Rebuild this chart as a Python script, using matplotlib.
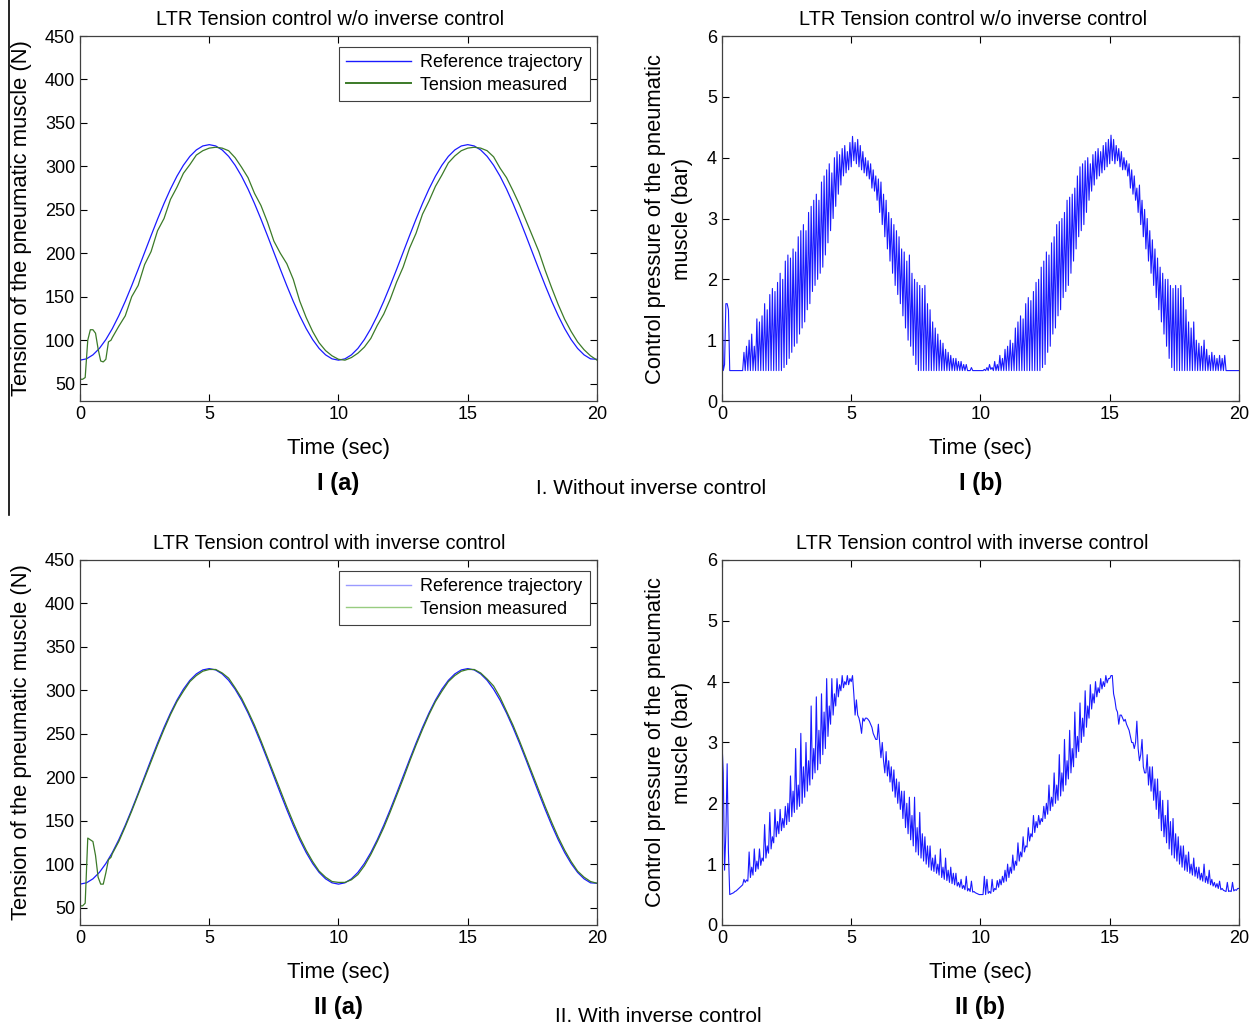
import numpy as np
import matplotlib.pyplot as plt
from matplotlib.lines import Line2D

plt.rcParams['font.family'] = ['Liberation Sans', 'DejaVu Sans']

# ---- data ----
# reference trajectory, sampled every 0.25 s from 0 to 20 s
ref_t = np.arange(81) * 0.25
ref_tension = [77, 78.5, 83.1, 90.5, 100.7, 113.3, 128.1, 144.7, 162.7, 181.6,
               201, 220.4, 239.3, 257.3, 273.9, 288.7, 301.3, 311.5, 318.9, 323.5,
               325, 323.5, 318.9, 311.5, 301.3, 288.7, 273.9, 257.3, 239.3, 220.4,
               201, 181.6, 162.7, 144.7, 128.1, 113.3, 100.7, 90.5, 83.1, 78.5,
               77, 78.5, 83.1, 90.5, 100.7, 113.3, 128.1, 144.7, 162.7, 181.6,
               201, 220.4, 239.3, 257.3, 273.9, 288.7, 301.3, 311.5, 318.9, 323.5,
               325, 323.5, 318.9, 311.5, 301.3, 288.7, 273.9, 257.3, 239.3, 220.4,
               201, 181.6, 162.7, 144.7, 128.1, 113.3, 100.7, 90.5, 83.1, 78.5,
               78]

# measured tension: 0.1 s steps during start-up, 0.25 s afterwards
meas_t = np.concatenate([np.arange(13) * 0.1, 1.25 + np.arange(76) * 0.25])

meas_wo = [55, 55, 57, 100, 112, 112, 108, 90, 76, 75, 78, 98, 100,
           103, 116, 128, 150, 163, 187, 202, 226, 240, 262, 276, 292, 302, 313, 318, 321,
           322, 321, 318, 310, 299, 287, 269, 255, 236, 214, 200, 188, 170, 145, 126, 110,
           97, 88, 82, 78,
           77, 80, 85, 92, 102, 117, 130, 147, 167, 184, 206, 223, 245, 260, 277, 290,
           304, 312, 318, 321,
           322, 321, 318, 311, 298, 287, 272, 256, 238, 220, 202, 180, 160, 141, 124, 110,
           98, 89, 82, 77]

meas_with = [52, 52, 55, 130, 128, 126, 110, 85, 77, 77, 90, 105, 108,
             112, 126, 143, 161, 180, 199, 218, 237, 255, 272, 287, 299, 310, 317, 322, 324,
             324, 320, 314, 303, 291, 276, 260, 242, 223, 204, 185, 166, 148, 131, 116, 103,
             92, 85, 80, 79,
             79, 82, 88, 98, 111, 126, 142, 160, 179, 198, 218, 237, 255, 272, 287, 299,
             310, 317, 322, 324,
             324, 320, 313, 305, 292, 276, 260, 242, 223, 204, 185, 166, 148, 131, 116, 103,
             92, 85, 80, 78]

# control pressure, sampled every 0.05 s (one row per second)
p_t = np.arange(401) * 0.05

pressure_wo = [
    2.3, 0.5, 0.6, 1.6, 1.6, 1.5, 0.5, 0.5, 0.5, 0.5, 0.5, 0.5, 0.5, 0.5, 0.5, 0.5, 0.5, 0.8, 0.5, 0.9,
    0.5, 1.0, 0.5, 1.1, 0.5, 0.9, 0.5, 1.35, 0.5, 1.3, 0.5, 1.4, 0.5, 1.6, 0.5, 1.5, 0.5, 1.75, 0.5, 1.85,
    0.5, 1.8, 0.5, 1.95, 0.5, 2.1, 0.5, 2.0, 0.55, 2.3, 0.6, 2.4, 0.7, 2.35, 0.8, 2.5, 0.9, 2.45, 0.95, 2.7,
    1.1, 2.8, 1.2, 2.9, 1.3, 2.8, 1.5, 3.1, 1.6, 3.2, 1.8, 3.3, 1.9, 3.4, 2.0, 3.3, 2.1, 3.6, 2.2, 3.7,
    2.4, 3.8, 2.6, 3.9, 2.8, 3.75, 3.0, 4.0, 3.2, 4.1, 3.4, 4.05, 3.55, 4.15, 3.7, 4.2, 3.75, 4.1, 3.8, 4.25,
    3.85, 4.35, 3.95, 4.25, 3.9, 4.3, 3.85, 4.2, 3.8, 4.1, 3.75, 4.0, 3.7, 3.95, 3.65, 3.9, 3.5, 3.8, 3.45, 3.7,
    3.3, 3.65, 3.1, 3.6, 2.9, 3.4, 2.7, 3.3, 2.5, 3.1, 2.3, 3.0, 2.1, 2.9, 1.9, 2.8, 1.75, 2.7, 1.6, 2.5,
    1.4, 2.45, 1.2, 2.3, 1.0, 2.4, 0.9, 2.1, 0.75, 2.0, 0.6, 1.95, 0.5, 1.9, 0.5, 1.85, 0.5, 1.9, 0.5, 1.6,
    0.5, 1.5, 0.5, 1.3, 0.5, 1.2, 0.5, 1.1, 0.5, 1.0, 0.5, 0.95, 0.5, 0.85, 0.5, 0.8, 0.5, 0.75, 0.5, 0.7,
    0.5, 0.7, 0.5, 0.65, 0.5, 0.65, 0.5, 0.6, 0.5, 0.6, 0.5, 0.5, 0.5, 0.55, 0.5, 0.5, 0.5, 0.5, 0.5, 0.5,
    0.5, 0.5, 0.5, 0.52, 0.5, 0.55, 0.5, 0.6, 0.52, 0.55, 0.5, 0.65, 0.5, 0.6, 0.5, 0.75, 0.5, 0.7, 0.5, 0.85,
    0.5, 0.9, 0.5, 1.0, 0.5, 0.95, 0.5, 1.2, 0.5, 1.3, 0.5, 1.4, 0.5, 1.35, 0.5, 1.6, 0.5, 1.7, 0.5, 1.65,
    0.5, 1.8, 0.5, 1.95, 0.5, 2.0, 0.5, 2.2, 0.55, 2.3, 0.6, 2.45, 0.8, 2.4, 0.9, 2.6, 1.1, 2.7, 1.2, 2.9,
    1.4, 2.95, 1.5, 3.0, 1.7, 3.1, 1.8, 3.3, 1.9, 3.35, 2.1, 3.4, 2.3, 3.5, 2.5, 3.7, 2.7, 3.85, 2.8, 3.9,
    2.9, 3.95, 3.1, 4.0, 3.3, 3.9, 3.45, 4.05, 3.55, 4.1, 3.65, 4.15, 3.7, 4.1, 3.75, 4.2, 3.8, 4.25, 3.85, 4.3,
    3.9, 4.37, 3.95, 4.3, 3.9, 4.2, 3.95, 4.15, 3.85, 4.1, 3.8, 4.0, 3.8, 3.95, 3.7, 3.9, 3.5, 3.8, 3.4, 3.7,
    3.3, 3.5, 3.1, 3.55, 2.9, 3.3, 2.7, 3.15, 2.5, 3.0, 2.3, 2.8, 2.1, 2.65, 1.9, 2.5, 1.7, 2.35, 1.5, 2.2,
    1.3, 2.1, 1.1, 2.0, 0.9, 2.0, 0.7, 1.9, 0.55, 1.85, 0.5, 1.9, 0.5, 1.85, 0.5, 1.9, 0.5, 1.7, 0.5, 1.5,
    0.5, 1.3, 0.5, 1.2, 0.5, 1.3, 0.5, 1.0, 0.5, 0.95, 0.5, 0.9, 0.5, 1.0, 0.5, 0.85, 0.5, 0.75, 0.5, 0.8,
    0.5, 0.75, 0.5, 0.7, 0.5, 0.75, 0.5, 0.7, 0.5, 0.75, 0.5, 0.5, 0.5, 0.5, 0.5, 0.5, 0.5, 0.5, 0.5, 0.5,
    0.5]

pressure_with = [
    3.0, 2.5, 0.9, 1.5, 2.65, 1.2, 0.5, 0.51, 0.52, 0.53, 0.55, 0.56, 0.58, 0.6, 0.62, 0.64, 0.66, 0.75, 0.7, 0.74,
    0.72, 1.2, 0.78, 0.95, 0.82, 1.25, 0.88, 1.05, 0.92, 1.25, 0.98, 1.1, 1.05, 1.65, 1.1, 1.3, 1.18, 1.85, 1.25, 1.45,
    1.35, 1.9, 1.45, 1.7, 1.5, 1.9, 1.55, 1.75, 1.6, 1.95, 1.65, 2.0, 1.7, 2.45, 1.78, 2.2, 1.85, 2.9, 1.9, 2.3,
    1.95, 3.15, 2.0, 2.6, 2.1, 3.0, 2.2, 2.7, 2.3, 3.6, 2.4, 2.9, 2.5, 3.75, 2.55, 3.2, 2.65, 3.8, 2.8, 3.5,
    2.9, 4.05, 3.1, 3.6, 3.3, 4.05, 3.45, 3.8, 3.6, 4.05, 3.75, 3.95, 3.85, 4.1, 3.9, 4.0, 3.95, 4.1, 3.95, 4.05,
    4.0, 4.1, 3.8, 3.45, 3.7, 3.45, 3.4, 3.3, 3.15, 3.4, 3.35, 3.4, 3.4, 3.38, 3.35, 3.3, 3.25, 3.15, 3.1, 3.05,
    3.05, 3.3, 3.0, 2.75, 3.0, 2.7, 2.5, 2.85, 2.45, 2.7, 2.35, 2.6, 2.2, 2.55, 2.1, 2.4, 2.0, 2.35, 1.9, 2.2,
    1.75, 2.2, 1.6, 2.0, 1.5, 2.1, 1.4, 1.8, 1.3, 2.1, 1.2, 1.6, 1.15, 1.85, 1.1, 1.5, 1.05, 1.45, 1.0, 1.3,
    0.95, 1.3, 0.9, 1.1, 0.88, 1.15, 0.85, 1.0, 0.82, 1.25, 0.78, 0.95, 0.75, 1.1, 0.73, 0.9, 0.7, 0.95, 0.68, 0.85,
    0.66, 0.85, 0.64, 0.7, 0.62, 0.75, 0.6, 0.65, 0.58, 0.8, 0.56, 0.6, 0.55, 0.72, 0.54, 0.55, 0.53, 0.52, 0.51, 0.5,
    0.5, 0.5, 0.5, 0.8, 0.5, 0.75, 0.52, 0.55, 0.52, 0.75, 0.55, 0.6, 0.58, 0.73, 0.62, 0.75, 0.66, 0.8, 0.7, 0.9,
    0.72, 1.0, 0.78, 0.95, 0.85, 1.15, 0.9, 1.05, 0.98, 1.35, 1.05, 1.2, 1.12, 1.45, 1.2, 1.3, 1.28, 1.6, 1.38, 1.5,
    1.45, 1.8, 1.52, 1.7, 1.6, 1.8, 1.65, 1.75, 1.7, 1.95, 1.75, 2.0, 1.82, 2.3, 1.88, 2.1, 1.95, 2.5, 2.0, 2.3,
    2.05, 2.8, 2.12, 2.5, 2.2, 3.05, 2.3, 2.7, 2.4, 3.2, 2.5, 2.9, 2.6, 3.5, 2.75, 3.1, 2.85, 3.65, 3.0, 3.4,
    3.1, 3.85, 3.25, 3.6, 3.4, 3.95, 3.55, 3.8, 3.65, 4.0, 3.75, 3.9, 3.82, 4.05, 3.88, 4.0, 3.92, 4.1, 3.98, 4.05,
    4.05, 4.1, 4.1, 3.8, 3.7, 3.55, 3.5, 3.3, 3.45, 3.45, 3.4, 3.35, 3.38, 3.3, 3.25, 3.2, 3.1, 3.0, 3.0, 2.9,
    3.0, 3.35, 2.9, 2.7, 2.8, 3.05, 2.6, 2.5, 2.5, 2.8, 2.3, 2.6, 2.2, 2.6, 2.05, 2.4, 1.9, 2.4, 1.75, 2.2,
    1.55, 2.05, 1.45, 1.8, 1.35, 2.05, 1.25, 1.7, 1.15, 1.75, 1.1, 1.5, 1.05, 1.45, 1.0, 1.3, 0.95, 1.3, 0.9, 1.15,
    0.88, 1.2, 0.85, 1.0, 0.82, 1.1, 0.8, 0.95, 0.77, 0.95, 0.74, 0.85, 0.72, 1.0, 0.7, 0.8, 0.68, 0.9, 0.66, 0.75,
    0.64, 0.7, 0.62, 0.68, 0.6, 0.72, 0.58, 0.6, 0.57, 0.56, 0.55, 0.7, 0.55, 0.56, 0.55, 0.7, 0.56, 0.58, 0.57, 0.6,
    0.6]

titles = ['LTR Tension control w/o inverse control',
          'LTR Tension control with inverse control']
panel_labels = [['I (a)', 'I (b)'], ['II (a)', 'II (b)']]
row_captions = ['I. Without inverse control', 'II. With inverse control']

# ---- figure ----
fig = plt.figure(figsize=(12.6, 10.29), dpi=100)

blue = '#1a1aff'
green = '#3b7a28'
frame = '#404040'


def style(ax):
    ax.tick_params(direction='in', top=True, right=True, length=5,
                   labelsize=13, colors='black', width=0.8)
    for s in ax.spines.values():
        s.set_color(frame)
        s.set_linewidth(0.9)


rows = [(meas_wo, pressure_wo, 0.6103, blue, green),
        (meas_with, pressure_with, 0.1011, '#9a9aff', '#98cc80')]

for r, (meas, press, bottom, leg_blue, leg_green) in enumerate(rows):
    # tension panel
    ax = fig.add_axes([0.0635, bottom, 0.4103, 0.3547])
    ax.plot(ref_t, ref_tension, color=blue, lw=0.9)
    ax.plot(meas_t, meas, color=green, lw=0.9)
    ax.set_xlim(0, 20)
    ax.set_ylim(30, 450)
    ax.set_xticks([0, 5, 10, 15, 20])
    ax.set_yticks(np.arange(50, 451, 50))
    ax.set_title(titles[r], fontsize=14.4, pad=8, x=0.483)
    ax.set_xlabel('Time (sec)', fontsize=15.8, labelpad=11)
    ax.set_ylabel('Tension of the pneumatic muscle (N)', fontsize=15.8, labelpad=9)
    style(ax)
    handles = [Line2D([], [], color=leg_blue, lw=1),
               Line2D([], [], color=leg_green, lw=1.4 if r == 0 else 1)]
    leg = ax.legend(handles, ['Reference trajectory', 'Tension measured'],
                    loc='upper right', bbox_to_anchor=(0.986, 0.970),
                    borderaxespad=0, fontsize=13, handlelength=3.6,
                    fancybox=False, framealpha=1, labelspacing=0.3,
                    borderpad=0.4, handletextpad=0.5)
    leg.get_frame().set_edgecolor(frame)
    leg.get_frame().set_linewidth(0.8)
    ax.text(0.5, -0.225, panel_labels[r][0], transform=ax.transAxes,
            ha='center', va='center', fontsize=17, fontweight='bold')

    # pressure panel
    ax2 = fig.add_axes([0.573, bottom, 0.4103, 0.3547])
    ax2.plot(p_t, press, color=blue, lw=0.8)
    ax2.set_xlim(0, 20)
    ax2.set_ylim(0, 6)
    ax2.set_xticks([0, 5, 10, 15, 20])
    ax2.set_yticks(range(7))
    ax2.set_title(titles[r], fontsize=14.4, pad=8, x=0.485)
    ax2.set_xlabel('Time (sec)', fontsize=15.8, labelpad=11)
    ax2.set_ylabel('Control pressure of the pneumatic\nmuscle (bar)', fontsize=15.8,
                   labelpad=10, linespacing=1.4)
    style(ax2)
    ax2.text(0.5, -0.225, panel_labels[r][1], transform=ax2.transAxes,
             ha='center', va='center', fontsize=17, fontweight='bold')

fig.text(651 / 1260, 1 - 489 / 1029, row_captions[0], ha='center', va='center', fontsize=15)
fig.text(658 / 1260, 1 - 1016 / 1029, row_captions[1], ha='center', va='center', fontsize=15)

# thin separator on the left edge of the upper block
fig.add_artist(Line2D([9 / 1260, 9 / 1260], [1.0, 1 - 515 / 1029],
                      color='black', lw=1.2, transform=fig.transFigure))

fig.savefig('out.png', dpi=100)
